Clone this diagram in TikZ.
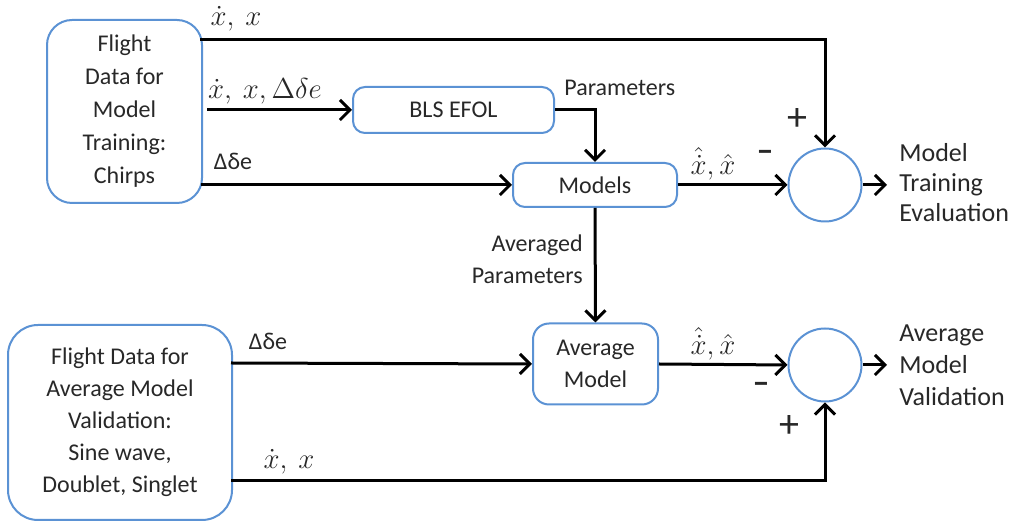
\documentclass[tikz,border=0pt]{standalone}
\usepackage{fontspec}
\setmainfont{Carlito}
\usetikzlibrary{arrows.meta}
\definecolor{boxblue}{RGB}{91,146,212}
\definecolor{txt}{RGB}{40,40,40}
\begin{document}
\begin{tikzpicture}[x=0.5pt,y=-0.5pt,
  every node/.style={text=txt,font=\fontsize{12}{16}\selectfont},
  blk/.style={draw=boxblue,line width=1pt,rounded corners=6pt,fill=white,inner sep=0pt,align=center},
  sumc/.style={draw=boxblue,line width=1pt,circle,minimum size=36.5pt,inner sep=0pt},
  conn/.style={line width=1.5pt,-{Straight Barb[length=5pt,width=10pt,line width=1.5pt]}},
  lbl/.style={inner sep=0pt},
  mlbl/.style={inner sep=0pt,font=\fontsize{13.5}{16}\selectfont},
  plus/.style={inner sep=0pt,font=\fontsize{20}{20}\selectfont},
  minus/.style={inner sep=0pt,font=\fontsize{17}{17}\selectfont\bfseries}]
\useasboundingbox (0,0) rectangle (1025,523);
% blocks
\node[blk,rounded corners=12.5pt,minimum width=77.5pt,minimum height=91.5pt] (box1) at (124.5,111.5)
  {Flight\\[0.5pt]Data for\\[0.5pt]Model\\[0.5pt]Training:\\[0.5pt]Chirps};
\node[blk,rounded corners=15pt,minimum width=112pt,minimum height=97.5pt] (box2) at (120,422.5)
  {Flight Data for\\Average Model\\Validation:\\Sine wave,\\Doublet, Singlet};
\node[blk,minimum width=100.5pt,minimum height=23pt] (bls) at (453.5,110) {BLS EFOL};
\node[blk,minimum width=82pt,minimum height=22pt] (models) at (595,185) {Models};
\node[blk,rounded corners=8pt,minimum width=62.5pt,minimum height=40.5pt] (avg) at (595.5,364) {Average\\Model};
\node[sumc] (c1) at (825,185) {};
\node[sumc] (c2) at (825,365) {};
% free ends
\coordinate (t1) at (200,40);
\coordinate (t2) at (207,110);
\coordinate (t3) at (201,185);
\coordinate (b1) at (231,363);
\coordinate (b2) at (231,481);
\coordinate (o1) at (887,185);
\coordinate (o2) at (887,365);
% connectors
\draw[conn] (t1) -| (c1.north);
\draw[conn] (t2) -- (bls.west);
\draw[conn] (t3) -- (models.west);
\draw[conn] (bls.east) -| (models.north);
\draw[conn] (models.east) -- (c1.west);
\draw[conn] (models.south) -- (avg.north);
\draw[conn] (c1.east) -- (o1);
\draw[conn] (b1) -- (avg.west);
\draw[conn] (avg.east) -- (c2.west);
\draw[conn] (b2) -| (c2.south);
\draw[conn] (c2.east) -- (o2);
% labels
\node[mlbl] (l1) at (236,19) {$\dot{x},\ x$};
\node[mlbl] (l2) at (265,91) {$\dot{x},\ x,\Delta\delta e$};
\node[lbl] (l3) at (233,161) {Δδe};
\node[lbl,anchor=west] (l4) at (564,88) {Parameters};
\node[mlbl] (l5) at (713,164) {$\hat{\dot{x}},\hat{x}$};
\node[lbl,align=right,anchor=east] (l6) at (583,259) {Averaged\\Parameters};
\node[lbl] (l7) at (268,341) {Δδe};
\node[mlbl] (l8) at (713,344) {$\hat{\dot{x}},\hat{x}$};
\node[mlbl] (l9) at (289,462) {$\dot{x},\ x$};
\node[lbl,align=left,anchor=west,font=\fontsize{13}{15}\selectfont] (r1) at (899,183) {Model\\Training\\Evaluation};
\node[lbl,align=left,anchor=west,font=\fontsize{13}{16}\selectfont] (r2) at (899,365) {Average\\Model\\Validation};
% signs
\node[plus] (s1) at (797,120) {+};
\node[minus] (s2) at (765,156) {–};
\node[minus] (s3) at (761,388) {–};
\node[plus] (s4) at (789,427) {+};
\end{tikzpicture}
\end{document}
